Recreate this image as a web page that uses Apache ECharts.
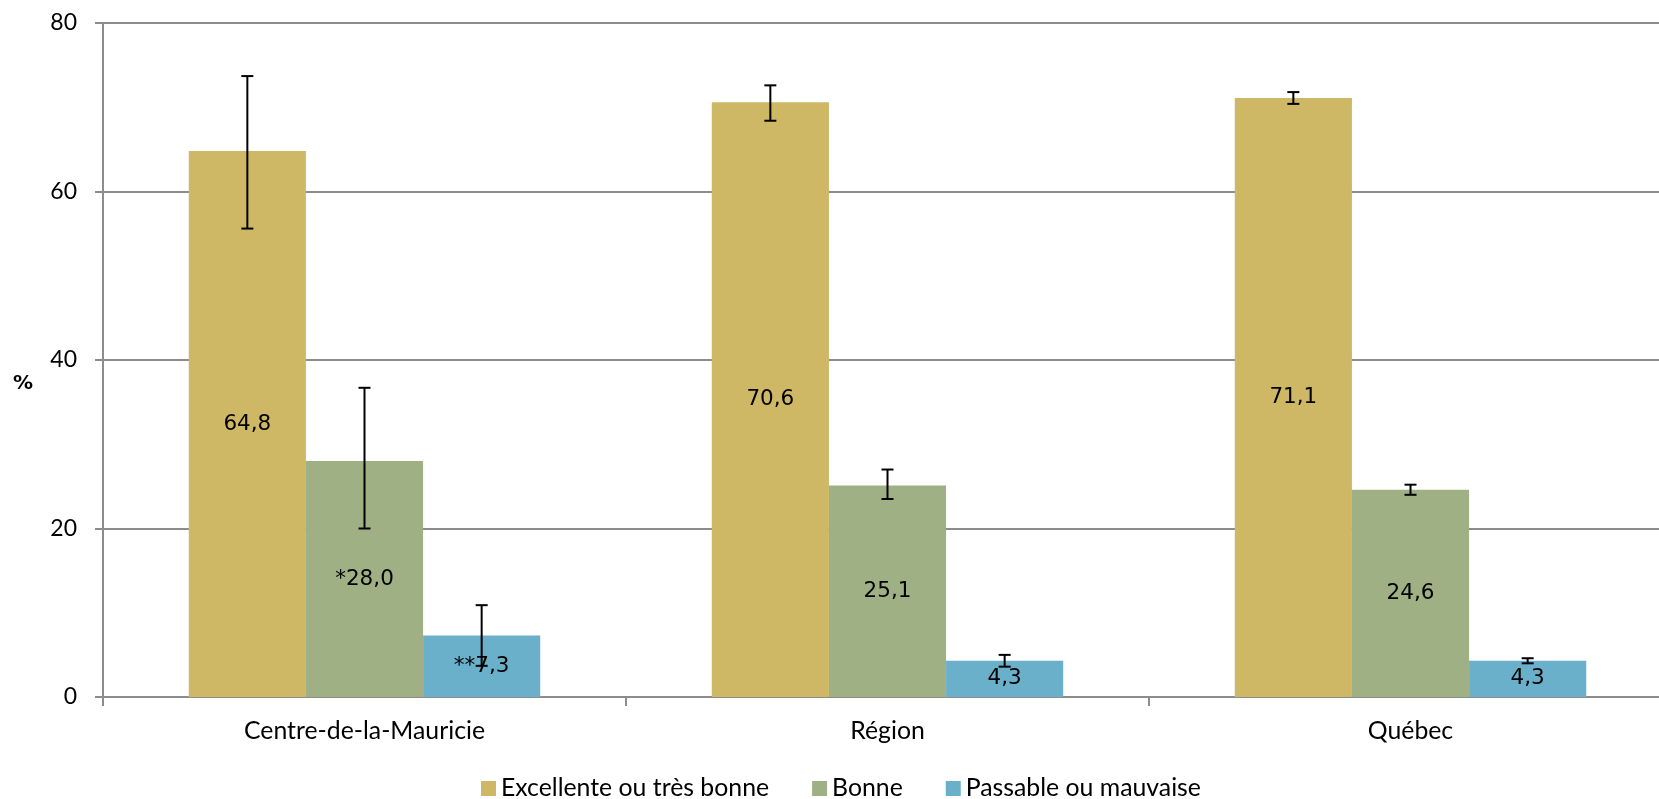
<!DOCTYPE html>
<html>
<head>
<meta charset="utf-8">
<script src="https://cdn.jsdelivr.net/npm/echarts@6/dist/echarts.min.js"></script>
<style>
html,body{margin:0;padding:0;background:#fff;overflow:hidden;width:1659px;height:799px;}
#chart{width:1675px;height:799px;}
</style>
</head>
<body>
<div id="chart"></div>
<script>
const categories = ['Centre-de-la-Mauricie', 'Région', 'Québec'];
const seriesNames = ['Excellente ou très bonne', 'Bonne', 'Passable ou mauvaise'];

const excellente = [64.8, 70.6, 71.1];
const bonne = [28.0, 25.1, 24.6];
const passable = [7.3, 4.3, 4.3];

const excellenteFlags = ['', '', ''];
const bonneFlags = ['*', '', ''];
const passableFlags = ['**', '', ''];

const excellenteLow = [55.6, 68.4, 70.4];
const excellenteHigh = [73.7, 72.6, 71.8];
const bonneLow = [20.0, 23.5, 24.0];
const bonneHigh = [36.7, 27.0, 25.2];
const passableLow = [3.7, 3.6, 4.0];
const passableHigh = [10.9, 5.0, 4.6];

const yTicks = [0, 20, 40, 60, 80];

const colors = ['#CEB866', '#9EB084', '#6AB0CA'];
const CAT_GAP = 0.328;

const chart = echarts.init(document.getElementById('chart'), null, {renderer: 'canvas'});

function fmt(v, flag) {
  return flag + v.toFixed(1).replace('.', ',');
}

function barSeries(name, data, flags, color) {
  return {
    name: name,
    type: 'bar',
    data: data,
    barGap: '0%',
    barCategoryGap: (CAT_GAP * 100) + '%',
    itemStyle: {color: color},
    label: {
      show: true,
      position: 'inside',
      color: '#000',
      fontFamily: 'DejaVu Sans',
      fontSize: 21.5,
      formatter: function (p) { return fmt(p.value, flags[p.dataIndex]); }
    },
    z: 2
  };
}

function errorSeries(idx, low, high) {
  const data = categories.map((c, i) => [i, low[i], high[i]]);
  return {
    type: 'custom',
    name: seriesNames[idx] + ' IC',
    data: data,
    z: 5,
    silent: true,
    legendHoverLink: false,
    renderItem: function (params, api) {
      const ci = api.value(0);
      const lo = api.coord([ci, api.value(1)]);
      const hi = api.coord([ci, api.value(2)]);
      const band = api.size([1, 0])[0];
      const bw = band * (1 - CAT_GAP) / 3;
      const x = lo[0] + (idx - 1) * bw;
      const cap = 6;
      const style = {stroke: '#000', lineWidth: 2, fill: null};
      return {
        type: 'group',
        children: [
          {type: 'line', shape: {x1: x, y1: lo[1], x2: x, y2: hi[1]}, style: style},
          {type: 'line', shape: {x1: x - cap, y1: lo[1], x2: x + cap, y2: lo[1]}, style: style},
          {type: 'line', shape: {x1: x - cap, y1: hi[1], x2: x + cap, y2: hi[1]}, style: style}
        ]
      };
    }
  };
}

const option = {
  animation: false,
  backgroundColor: '#fff',
  grid: {left: 103, right: 3, top: 23, bottom: 102, containLabel: false},
  legend: {
    data: seriesNames,
    left: 476,
    top: 771,
    itemWidth: 15,
    itemHeight: 15,
    itemGap: 43,
    icon: 'rect',
    textStyle: {fontFamily: 'Lato', fontSize: 24.8, color: '#000'}
  },
  xAxis: {
    type: 'category',
    data: categories,
    axisLine: {lineStyle: {color: '#8c8c8c', width: 2}},
    axisTick: {show: true, alignWithLabel: false, length: 9, lineStyle: {color: '#8c8c8c', width: 2}},
    axisLabel: {fontFamily: 'Lato', fontSize: 24.8, color: '#000', margin: 22}
  },
  yAxis: {
    type: 'value',
    min: yTicks[0],
    max: yTicks[yTicks.length - 1],
    interval: yTicks[1] - yTicks[0],
    name: '%',
    nameLocation: 'middle',
    nameRotate: 0,
    nameGap: 70,
    nameTextStyle: {fontFamily: 'DejaVu Sans', fontSize: 20, fontWeight: 'bold', color: '#000', verticalAlign: 'top', lineHeight: 48},
    axisLine: {show: true, lineStyle: {color: '#8c8c8c', width: 2}},
    axisTick: {show: true, length: 8, lineStyle: {color: '#8c8c8c', width: 2}},
    axisLabel: {fontFamily: 'Lato', fontSize: 23, color: '#000', margin: 26},
    splitLine: {lineStyle: {color: '#8c8c8c', width: 2}}
  },
  series: [
    barSeries(seriesNames[0], excellente, excellenteFlags, colors[0]),
    barSeries(seriesNames[1], bonne, bonneFlags, colors[1]),
    barSeries(seriesNames[2], passable, passableFlags, colors[2]),
    errorSeries(0, excellenteLow, excellenteHigh),
    errorSeries(1, bonneLow, bonneHigh),
    errorSeries(2, passableLow, passableHigh)
  ]
};

chart.setOption(option);
</script>
</body>
</html>
